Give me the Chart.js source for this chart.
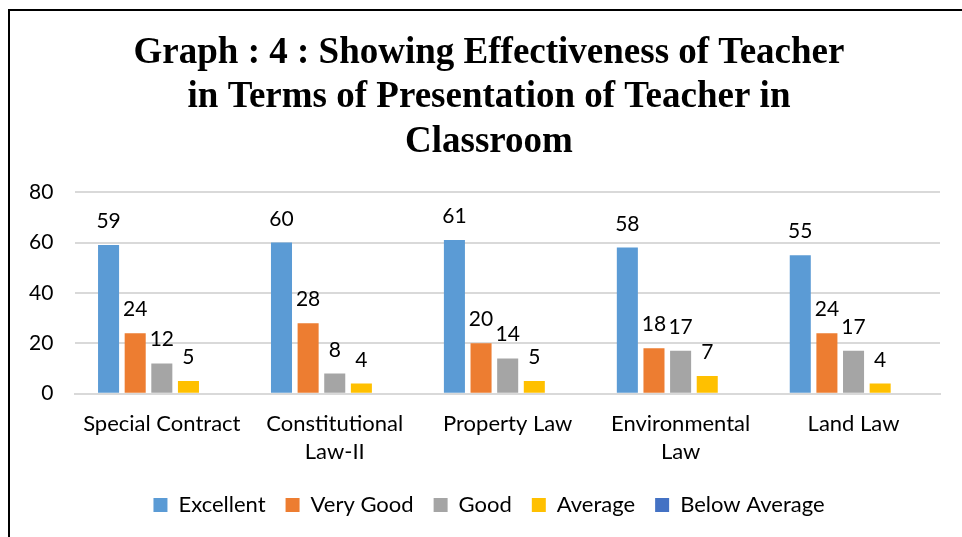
<!DOCTYPE html>
<html>
<head>
<meta charset="utf-8">
<script src="https://cdn.jsdelivr.net/npm/chart.js@4"></script>
<style>
  body { margin: 0; background: #fff; }
  #wrap { position: relative; width: 962px; height: 537px; overflow: hidden; }
  #frame { position: absolute; left: 8px; top: 9px; right: 0; bottom: 0;
           border-left: 2px solid #000; border-top: 2px solid #000; pointer-events: none; }
  canvas { position: absolute; left: 0; top: 0; }
</style>
</head>
<body>
<div id="wrap">
  <canvas id="chart" width="980" height="537"></canvas>
  <div id="frame"></div>
</div>
<script>
const subjects = ["Special Contract", ["Constitutional", "Law-II"], "Property Law", ["Environmental", "Law"], "Land Law"];
const seriesNames = ["Excellent", "Very Good", "Good", "Average", "Below Average"];
const excellent = [59, 60, 61, 58, 55];
const veryGood = [24, 28, 20, 18, 24];
const good = [12, 8, 14, 17, 17];
const average = [5, 4, 5, 7, 4];
const belowAverage = [0, 0, 0, 0, 0];
const yTicks = [0, 20, 40, 60, 80];

const colors = ["#5B9BD5", "#ED7D31", "#A5A5A5", "#FFC000", "#4472C4"];
const values = [excellent, veryGood, good, average, belowAverage];

const labelFont = "Lato, 'Open Sans', sans-serif";

// value labels above each bar
const barLabels = {
  id: "barLabels",
  afterDatasetsDraw(chart) {
    const ctx = chart.ctx;
    ctx.save();
    ctx.font = "21px " + labelFont;
    ctx.fillStyle = "#000";
    ctx.textAlign = "center";
    ctx.textBaseline = "alphabetic";
    chart.data.datasets.forEach((ds, i) => {
      chart.getDatasetMeta(i).data.forEach((bar, j) => {
        if (!ds.data[j]) return;
        ctx.fillText(ds.data[j], bar.x, bar.y - 17);
      });
    });
    ctx.restore();
  }
};

new Chart(document.getElementById("chart"), {
  type: "bar",
  data: {
    labels: subjects,
    datasets: seriesNames.map((name, i) => ({
      label: name,
      data: values[i],
      backgroundColor: colors[i],
      categoryPercentage: 0.77,
      barPercentage: 0.79
    }))
  },
  options: {
    responsive: false,
    animation: false,
    layout: { padding: { left: 7, right: 9, top: 31, bottom: 11 } },
    plugins: {
      title: {
        display: true,
        text: ["Graph : 4 : Showing Effectiveness of Teacher", "in Terms of Presentation of Teacher in", "Classroom"],
        font: { family: "'Liberation Serif', 'Times New Roman', serif", size: 37, weight: "bold" },
        color: "#000",
        lineHeight: 1.2,
        padding: { top: 0, bottom: 28 }
      },
      legend: {
        position: "bottom",
        labels: {
          boxWidth: 14,
          boxHeight: 14,
          padding: 20,
          color: "#000",
          font: { family: labelFont, size: 22 }
        }
      },
      tooltip: { enabled: false }
    },
    scales: {
      x: {
        grid: { display: false },
        border: { color: "#d9d9d9", width: 2 },
        ticks: {
          color: "#000",
          font: { family: labelFont, size: 22, lineHeight: 1.28 },
          maxRotation: 0,
          padding: 8
        }
      },
      y: {
        min: 0,
        max: 80,
        afterBuildTicks: axis => { axis.ticks = yTicks.map(v => ({ value: v })); },
        grid: { color: "#d9d9d9", lineWidth: 2, drawTicks: false },
        border: { display: false },
        ticks: {
          color: "#000",
          font: { family: labelFont, size: 21 },
          padding: 22
        }
      },
      // empty spacer on the right so the title centres like the original
      spacer: {
        type: "linear",
        position: "right",
        grid: { display: false },
        border: { display: false },
        ticks: { display: false },
        afterFit: axis => { axis.width = 31; }
      }
    }
  },
  plugins: [barLabels]
});
</script>
</body>
</html>
